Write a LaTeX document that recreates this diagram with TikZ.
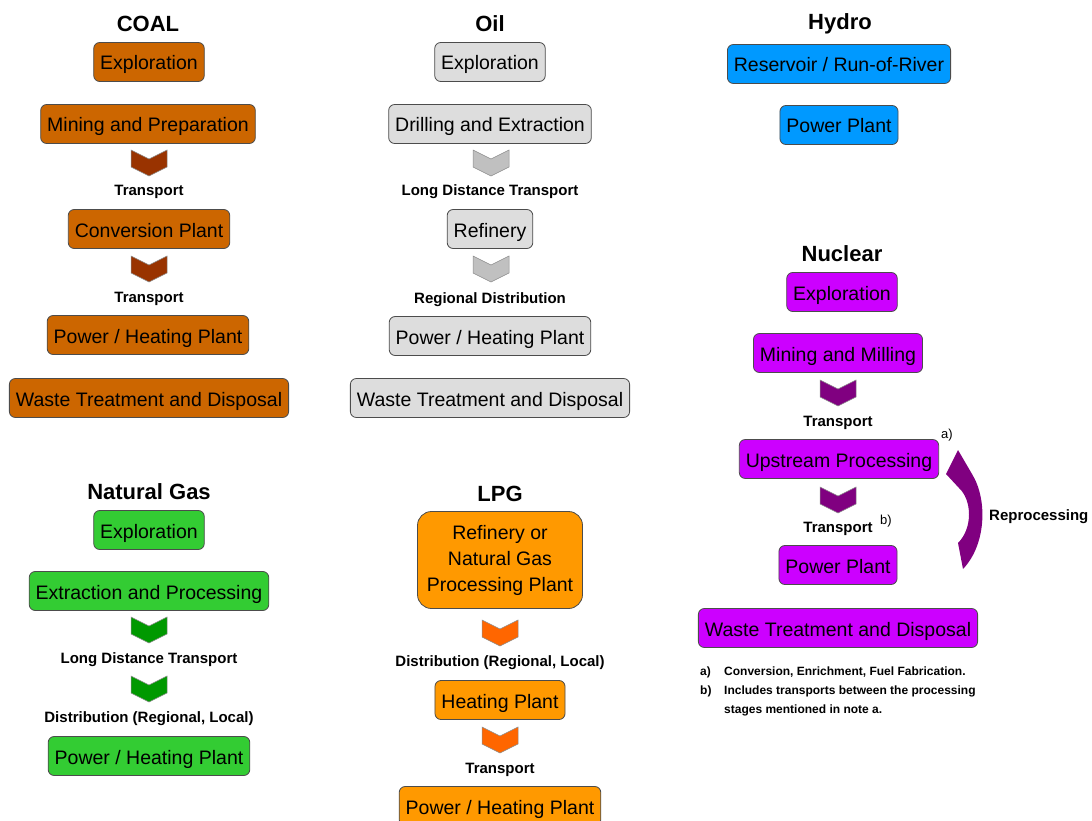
\documentclass[tikz,border=0pt]{standalone}
\usepackage{fontspec}
\setmainfont{Liberation Sans}
\usepackage{tikz}
\usetikzlibrary{positioning}

\definecolor{coal}{HTML}{CC6600}
\definecolor{coaldark}{HTML}{993300}
\definecolor{oil}{HTML}{DDDDDD}
\definecolor{oildark}{HTML}{C0C0C0}
\definecolor{hydro}{HTML}{0099FF}
\definecolor{nuc}{HTML}{CC00FF}
\definecolor{nucdark}{HTML}{800080}
\definecolor{gas}{HTML}{33CC33}
\definecolor{gasdark}{HTML}{009900}
\definecolor{lpg}{HTML}{FF9900}
\definecolor{lpgdark}{HTML}{FF6600}

\begin{document}
\begin{tikzpicture}[x=1pt, y=-1pt,
    box/.style={draw=black!70, line width=0.8pt, rounded corners=6pt, minimum height=39pt,
        inner xsep=6.5pt, text height=17pt, text depth=1pt, font=\fontsize{19.5}{22}\selectfont},
    title/.style={font=\fontsize{22}{24}\selectfont\bfseries, inner sep=0pt, yshift=-2pt},
    lbl/.style={font=\fontsize{15}{17}\selectfont\bfseries, inner sep=0pt, yshift=-2pt},
    note/.style={font=\fontsize{12}{14}\selectfont\bfseries, inner sep=0pt, anchor=west},
    supnote/.style={font=\fontsize{13}{15}\selectfont, inner sep=0pt},
    chev/.pic={\filldraw[draw=black!45, line width=0.5pt]
        (-18,0) -- (0,9) -- (18,0) -- (18,17) -- (0,26) -- (-18,17) -- cycle;}]
    \useasboundingbox (0,0) rectangle (1092,821);

    % COAL
    \node[title] (coaltitle) at (148,22) {COAL};
    \node[box, fill=coal] (coalexp) at (149,62) {Exploration};
    \node[box, fill=coal] (coalmine) at (148,124) {Mining and Preparation};
    \pic[fill=coaldark] at (149,150) {chev};
    \node[lbl] (coaltr1) at (149,190) {Transport};
    \node[box, fill=coal] (coalconv) at (149,229) {Conversion Plant};
    \pic[fill=coaldark] at (149,256) {chev};
    \node[lbl] (coaltr2) at (149,297) {Transport};
    \node[box, fill=coal] (coalpower) at (148,335) {Power / Heating Plant};
    \node[box, fill=coal] (coalwaste) at (149,398) {Waste Treatment and Disposal};

    % Oil
    \node[title] (oiltitle) at (490,22) {Oil};
    \node[box, fill=oil] (oilexp) at (490,62) {Exploration};
    \node[box, fill=oil] (oildrill) at (490,124) {Drilling and Extraction};
    \pic[fill=oildark] at (491,150) {chev};
    \node[lbl] (oiltr) at (490,190) {Long Distance Transport};
    \node[box, fill=oil] (oilref) at (490,229) {Refinery};
    \pic[fill=oildark] at (491,256) {chev};
    \node[lbl] (oildist) at (490,298) {Regional Distribution};
    \node[box, fill=oil] (oilpower) at (490,336) {Power / Heating Plant};
    \node[box, fill=oil] (oilwaste) at (490,398) {Waste Treatment and Disposal};

    % Hydro
    \node[title] (hydtitle) at (840,22) {Hydro};
    \node[box, fill=hydro] (hydres) at (839,64) {Reservoir / Run-of-River};
    \node[box, fill=hydro] (hydpower) at (839,125) {Power Plant};

    % Nuclear
    \node[title] (nuctitle) at (842,252) {Nuclear};
    \node[box, fill=nuc] (nucexp) at (842,292) {Exploration};
    \node[box, fill=nuc] (nucmine) at (838,353) {Mining and Milling};
    \pic[fill=nucdark] at (838,380) {chev};
    \node[lbl] (nuctr1) at (838,421) {Transport};
    \node[box, fill=nuc] (nucup) at (839,459) {Upstream Processing};
    \node[supnote] (nuca) at (947,435) {a)};
    \pic[fill=nucdark] at (838,487) {chev};
    \node[lbl] (nuctr2) at (838,527) {Transport};
    \node[supnote] (nucb) at (886,521) {b)};
    \node[box, fill=nuc] (nucpower) at (838,565) {Power Plant};
    \node[box, fill=nuc] (nucwaste) at (838,628) {Waste Treatment and Disposal};

    % Reprocessing arrow
    \fill[nucdark] (958,450) -- (946,474) -- (959,488)
        .. controls (972,500) and (973,528) .. (958,543) -- (963,569)
        .. controls (986,545) and (988,500) .. (972,474) -- cycle;
    \node[lbl, anchor=west] (nucrep) at (989,515) {Reprocessing};

    % notes
    \node[note] (nota) at (700,672) {a)};
    \node[note] (notatext) at (724,672) {Conversion, Enrichment, Fuel Fabrication.};
    \node[note] (notb) at (700,691) {b)};
    \node[note] (notbtext) at (724,691) {Includes transports between the processing};
    \node[note] (notbtext2) at (724,710) {stages mentioned in note a.};

    % Natural Gas
    \node[title] (gastitle) at (149,490) {Natural Gas};
    \node[box, fill=gas] (gasexp) at (149,530) {Exploration};
    \node[box, fill=gas] (gasextr) at (149,591) {Extraction and Processing};
    \pic[fill=gasdark] at (149,617) {chev};
    \node[lbl] (gastr) at (149,658) {Long Distance Transport};
    \pic[fill=gasdark] at (149,676) {chev};
    \node[lbl] (gasdist) at (149,717) {Distribution (Regional, Local)};
    \node[box, fill=gas] (gaspower) at (149,756) {Power / Heating Plant};

    % LPG
    \node[title] (lpgtitle) at (500,492) {LPG};
    \node[box, fill=lpg, rounded corners=14pt, minimum width=165pt, minimum height=97pt,
        text height=, text depth=, align=center, font=\fontsize{19.5}{26}\selectfont]
        (lpgref) at (500,560) {Refinery or\\Natural Gas\\Processing Plant};
    \pic[fill=lpgdark] at (500,620) {chev};
    \node[lbl] (lpgdist) at (500,661) {Distribution (Regional, Local)};
    \node[box, fill=lpg] (lpgheat) at (500,700) {Heating Plant};
    \pic[fill=lpgdark] at (500,727) {chev};
    \node[lbl] (lpgtr) at (500,768) {Transport};
    \node[box, fill=lpg] (lpgpower) at (500,806) {Power / Heating Plant};
\end{tikzpicture}
\end{document}
